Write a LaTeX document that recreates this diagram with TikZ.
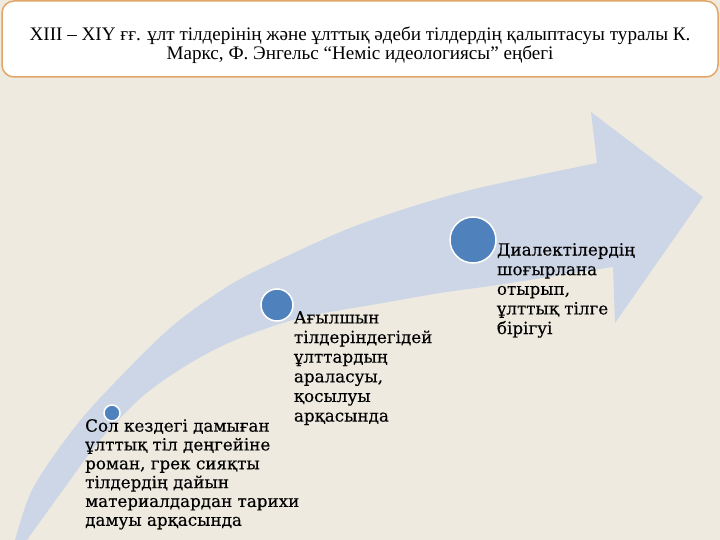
\documentclass[tikz,border=0pt]{standalone}
\usepackage{fontspec}
\setmainfont{DejaVu Serif}
\newfontfamily\stagefont{DejaVu Serif}[FakeBold=0.3]
\newfontfamily\titlefont{Liberation Serif}
\usetikzlibrary{positioning}
\definecolor{paper}{RGB}{238,234,224}
\definecolor{shaft}{RGB}{205,214,230}
\definecolor{dot}{RGB}{79,129,189}
\definecolor{frame}{RGB}{226,166,104}
\tikzset{
  stage/.style={circle,fill=dot,draw=white,line width=1.5bp,inner sep=0pt},
  stagetext/.style={anchor=north west,inner sep=0pt,align=left,
    font=\stagefont\fontsize{16.8}{19.7}\selectfont}
}

\begin{document}
\begin{tikzpicture}[x=1bp,y=-1bp]
  \useasboundingbox (0,0) rectangle (720,540);
  \fill[paper] (0,0) rectangle (720,540);
  % title frame
  \draw[frame,line width=1.5bp,fill=white,rounded corners=12bp] (2,1) rectangle (718,77);
  \node[align=center,inner sep=0pt,font=\titlefont\fontsize{19.2}{19.5}\selectfont] (title) at (360,45)
        {XIII – XIY ғғ. ұлт тілдерінің және ұлттық әдеби тілдердің қалыптасуы туралы К.\\
         Маркс, Ф. Энгельс “Неміс идеологиясы” еңбегі};
  % the curved arrow
  \begin{scope}
    \clip (0,0) rectangle (720,540);
    \fill[shaft] plot[smooth] coordinates {(10,566) (15,540) (32,490) (65,440) (100,398)
        (170,328) (230,285) (283,258) (350,228) (417,205) (483,187) (597,163)}
      -- (591,112) -- (703,197) -- (615,323) -- (613,267)
      -- plot[smooth] coordinates {(613,267) (497,285) (440,293) (383,303) (300,318)
        (233,341) (187,365) (143,396) (100,440) (63,490) (27,540) (10,566)} -- cycle;
  \end{scope}
  \node[stage,minimum size=16bp] (c1) at (112,413) {};
  \node[stage,minimum size=32bp] (c2) at (277,305) {};
  \node[stage,minimum size=46bp] (c3) at (473,240) {};
  \node[stagetext,font=\stagefont\fontsize{16.8}{18.9}\selectfont] (t1) at (85,419) {Сол кездегі дамыған\\ұлттық тіл деңгейіне\\роман, грек сияқты\\тілдердің дайын\\материалдардан тарихи\\дамуы арқасында};
  \node[stagetext] (t2) at ([yshift=-6bp]c2.east) {Ағылшын\\тілдеріндегідей\\ұлттардың\\араласуы,\\қосылуы\\арқасында};
  \node[stagetext] (t3) at ([yshift=-3bp]c3.east) {Диалектілердің\\шоғырлана\\отырып,\\ұлттық тілге\\бірігуі};
\end{tikzpicture}
\end{document}
